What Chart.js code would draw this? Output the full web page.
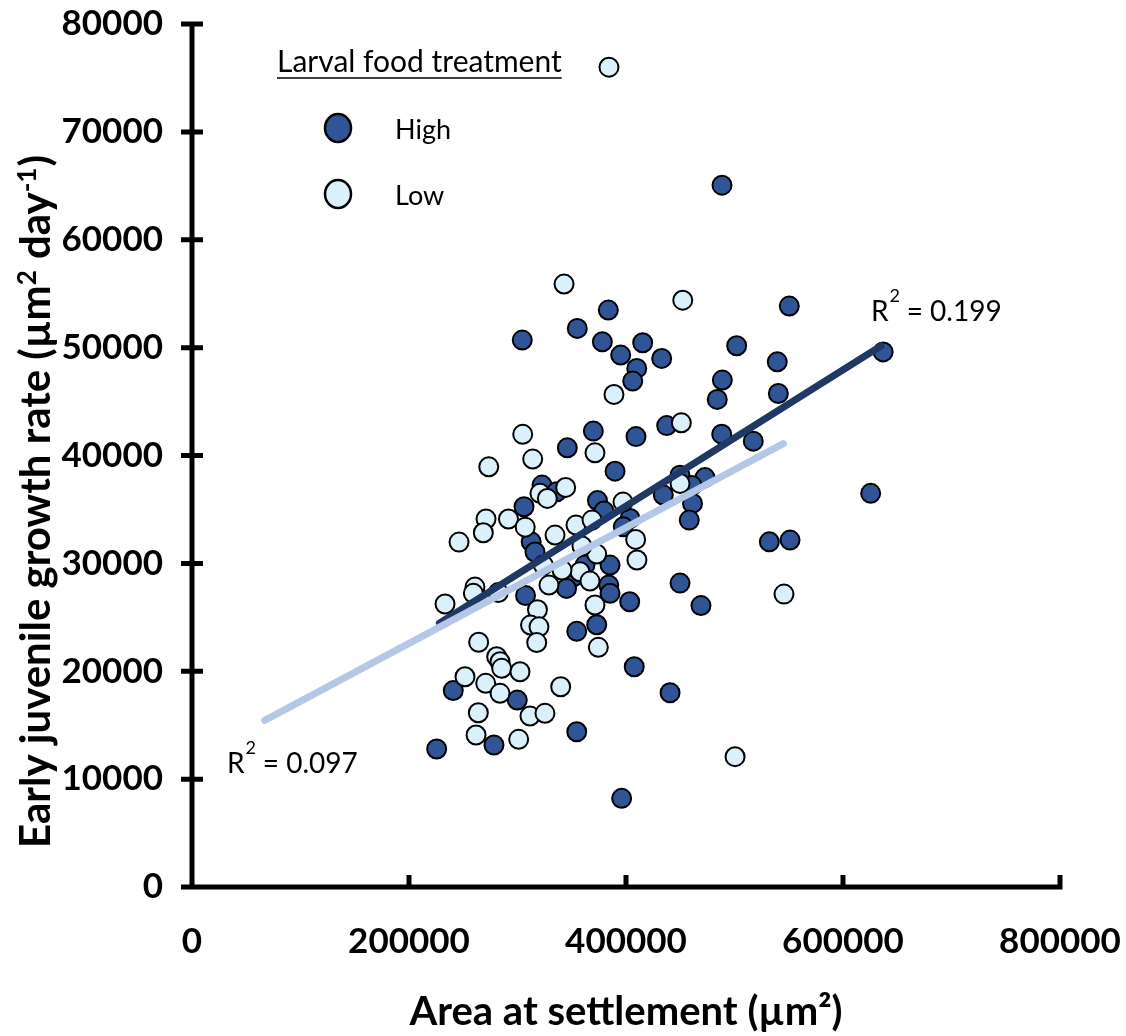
<!DOCTYPE html>
<html>
<head>
<meta charset="utf-8">
<script src="https://cdn.jsdelivr.net/npm/chart.js@4.4.1/dist/chart.umd.min.js"></script>
<style>
  html, body { margin: 0; padding: 0; background: #fff; }
  #wrap { width: 1126px; height: 1036px; position: relative; }
</style>
</head>
<body>
<div id="wrap"><canvas id="chart"></canvas></div>
<script>
// values
const highX = [637000, 550500, 488500, 502000, 539400, 540400, 488800, 484100, 488200, 517300,
               625500, 532100, 551200, 383700, 355100, 304400, 378200, 415400, 395100, 432900,
               409900, 406200, 369900, 409200, 437500, 345900, 389900, 449800, 472800, 460800,
               434400, 461300, 458300, 322600, 336100, 373700, 379700, 306000, 403700, 397500,
               312600, 316100, 385300, 362200, 351400, 345200, 384100, 385300, 403400, 449800,
               469100, 307400, 373000, 354600, 407600, 440600, 240800, 299800, 225500, 278300,
               354600, 396000];
const highY = [49600, 53850, 65060, 50170, 48680, 45750, 46990, 45200, 41980, 41330,
               36490, 32000, 32160, 53480, 51780, 50700, 50540, 50450, 49310, 49000,
               48070, 46900, 42260, 41750, 42770, 40710, 38550, 38180, 37950, 37210,
               36330, 35560, 34010, 37260, 36640, 35820, 34850, 35250, 34170, 33390,
               32000, 31050, 29840, 29840, 28760, 27680, 27990, 27220, 26440, 28170,
               26090, 27020, 24310, 23700, 20420, 18010, 18210, 17330, 12790, 13160,
               14390, 8220];

const lowX = [384300, 342900, 452300, 388900, 451000, 304800, 371400, 314000, 273500, 344400,
              320700, 327500, 397200, 271000, 268500, 246100, 291700, 307100, 334600, 353900,
              368700, 408900, 449800, 410100, 373000, 357600, 366800, 371400, 374500, 323800,
              341000, 329000, 260800, 259300, 282300, 233200, 318400, 312000, 319800, 317700,
              264200, 280800, 283900, 285400, 302300, 251600, 270700, 283900, 311500, 325300,
              263900, 261800, 301100, 339800, 500500, 545600, 359400];
const lowY = [76000, 55890, 54400, 45660, 43030, 41960, 40250, 39670, 38950, 37040,
              36490, 36020, 35680, 34110, 32840, 31970, 34110, 33360, 32620, 33550,
              34010, 32220, 37410, 30310, 30860, 29220, 28360, 26140, 22220, 29840,
              29380, 27990, 27800, 27220, 27290, 26230, 25700, 24280, 24120, 22660,
              22690, 21340, 20880, 20270, 19950, 19490, 18880, 17950, 15850, 16100,
              16150, 14090, 13690, 18560, 12080, 27150, 31600];

// fitted lines as drawn in the picture (end points)
const highFitX = [228000, 635000];
const highFitY = [24450, 50150];
const lowFitX = [67000, 545000];
const lowFitY = [15450, 41100];

const xTicks = [0, 200000, 400000, 600000, 800000];
const yTicks = [0, 10000, 20000, 30000, 40000, 50000, 60000, 70000, 80000];

const seriesNames = ['High', 'Low'];
const r2High = 'R² = 0.199';
const r2Low = 'R² = 0.097';
// y title pieces: [text, superscript?]
const yTitleParts = [['Early juvenile growth rate (µm', false], ['2', true], [' day', false], ['-1', true], [')', false]];

const highFill = '#2F5597';
const lowFill = '#DAF1FB';

function pts(xs, ys) {
    return xs.map((v, i) => ({ x: v, y: ys[i] }));
}

// axes drawn the way the spreadsheet does: y ticks cross, x ticks point up
const axesPlugin = {
    id: 'axesPlugin',
    afterDraw(chart) {
        const { ctx, scales: { x, y } } = chart;
        const x0 = x.getPixelForValue(0);
        const y0 = y.getPixelForValue(0);
        const yTop = y.getPixelForValue(80000);
        const xEnd = x.getPixelForValue(800000);
        ctx.save();
        ctx.strokeStyle = '#000';
        ctx.lineWidth = 5;
        ctx.lineCap = 'butt';
        ctx.beginPath();
        ctx.moveTo(x0, yTop - 2.5);
        ctx.lineTo(x0, y0 + 2.5);
        ctx.moveTo(x0 - 11, y0);
        ctx.lineTo(xEnd + 2.5, y0);
        yTicks.forEach(v => {
            const py = y.getPixelForValue(v);
            ctx.moveTo(x0 - 11, py);
            ctx.lineTo(x0 + 11, py);
        });
        xTicks.forEach(v => {
            if (v === 0) return;
            const px = x.getPixelForValue(v);
            ctx.moveTo(px, y0);
            ctx.lineTo(px, y0 - 12);
        });
        ctx.stroke();
        ctx.restore();
    }
};

function drawR2(ctx, text, px, py) {
    const parts = text.split('²');
    ctx.font = '28px Lato';
    ctx.textBaseline = 'alphabetic';
    ctx.textAlign = 'left';
    ctx.fillText(parts[0], px, py);
    let w = ctx.measureText(parts[0]).width;
    ctx.font = '18px Lato';
    ctx.fillText('2', px + w + 1, py - 19);
    ctx.font = '28px Lato';
    ctx.fillText(parts[1], px + w + 11, py);
}

const notesPlugin = {
    id: 'notesPlugin',
    afterDraw(chart) {
        const { ctx, scales: { x, y } } = chart;
        ctx.save();
        ctx.fillStyle = '#000';

        // y axis title with real superscripts, bottom end at 848, centre line x=36
        const big = 'bold 42px Lato', small = 'bold 26px Lato';
        let total = 0;
        yTitleParts.forEach(([t, sup]) => {
            ctx.font = sup ? small : big;
            total += ctx.measureText(t).width;
        });
        ctx.save();
        ctx.translate(50, 848);
        ctx.rotate(-Math.PI / 2);
        ctx.textAlign = 'left';
        ctx.textBaseline = 'alphabetic';
        let cx = 0;
        yTitleParts.forEach(([t, sup]) => {
            ctx.font = sup ? small : big;
            ctx.fillText(t, cx, sup ? -14 : 0);
            cx += ctx.measureText(t).width + (sup ? 1 : 0);
        });
        ctx.restore();

        // legend box
        ctx.font = '30px Lato';
        ctx.textBaseline = 'alphabetic';
        ctx.textAlign = 'left';
        const title = 'Larval food treatment';
        ctx.fillText(title, 277, 72);
        const tw = ctx.measureText(title).width;
        ctx.lineWidth = 1.5;
        ctx.strokeStyle = '#000';
        ctx.beginPath();
        ctx.moveTo(277, 78);
        ctx.lineTo(277 + tw, 78);
        ctx.stroke();

        const fills = [highFill, lowFill];
        const rows = [128, 194];
        rows.forEach((ry, i) => {
            ctx.beginPath();
            ctx.ellipse(338, ry, 13, 14, 0, 0, Math.PI * 2);
            ctx.fillStyle = fills[i];
            ctx.fill();
            ctx.lineWidth = 2.5;
            ctx.strokeStyle = '#000';
            ctx.stroke();
            ctx.fillStyle = '#000';
            ctx.textBaseline = 'middle';
            ctx.font = '27px Lato';
            ctx.fillText(seriesNames[i], 395, ry + 2);
        });

        // R squared notes, anchored in data units
        drawR2(ctx, r2High, x.getPixelForValue(625800), y.getPixelForValue(52460));
        drawR2(ctx, r2Low, x.getPixelForValue(32300), y.getPixelForValue(10570));
        ctx.restore();
    }
};

const tickFont = { family: 'Lato', size: 35, weight: 'bold' };
const titleFont = { family: 'Lato', size: 40, weight: 'bold' };

new Chart(document.getElementById('chart'), {
    type: 'scatter',
    data: {
        datasets: [
            {
                label: 'High fit',
                data: pts(highFitX, highFitY),
                showLine: true,
                borderColor: '#203864',
                borderWidth: 7,
                borderCapStyle: 'round',
                pointRadius: 0,
                order: 2
            },
            {
                label: 'Low fit',
                data: pts(lowFitX, lowFitY),
                showLine: true,
                borderColor: '#B4C7E7',
                borderWidth: 7,
                borderCapStyle: 'round',
                pointRadius: 0,
                order: 1
            },
            {
                label: seriesNames[0],
                data: pts(highX, highY),
                backgroundColor: highFill,
                borderColor: '#000',
                borderWidth: 2,
                pointRadius: 9.5,
                order: 4
            },
            {
                label: seriesNames[1],
                data: pts(lowX, lowY),
                backgroundColor: lowFill,
                borderColor: '#000',
                borderWidth: 2,
                pointRadius: 9.5,
                order: 3
            }
        ]
    },
    options: {
        responsive: true,
        maintainAspectRatio: false,
        animation: false,
        layout: { padding: { top: 24, right: 66, left: 0, bottom: 0 } },
        plugins: {
            legend: { display: false },
            tooltip: { enabled: false }
        },
        scales: {
            x: {
                type: 'linear',
                min: 0,
                max: 800000,
                afterBuildTicks: s => { s.ticks = xTicks.map(v => ({ value: v })); },
                afterFit: s => { s.height = 149; s.paddingLeft = 0; s.paddingRight = 0; },
                grid: { display: false, drawTicks: false },
                border: { display: false },
                ticks: { font: tickFont, color: '#000', padding: 34, maxRotation: 0, callback: v => String(v) },
                title: { display: true, text: 'Area at settlement (µm²)', font: titleFont, color: '#000', padding: { top: 0, bottom: 0 } }
            },
            y: {
                type: 'linear',
                min: 0,
                max: 80000,
                afterBuildTicks: s => { s.ticks = yTicks.map(v => ({ value: v })); },
                afterFit: s => { s.width = 192; s.paddingTop = 0; s.paddingBottom = 0; },
                grid: { display: false, drawTicks: false },
                border: { display: false },
                ticks: { font: tickFont, color: '#000', padding: 29, callback: v => String(v) },
                title: { display: false }
            }
        }
    },
    plugins: [axesPlugin, notesPlugin]
});
</script>
</body>
</html>
